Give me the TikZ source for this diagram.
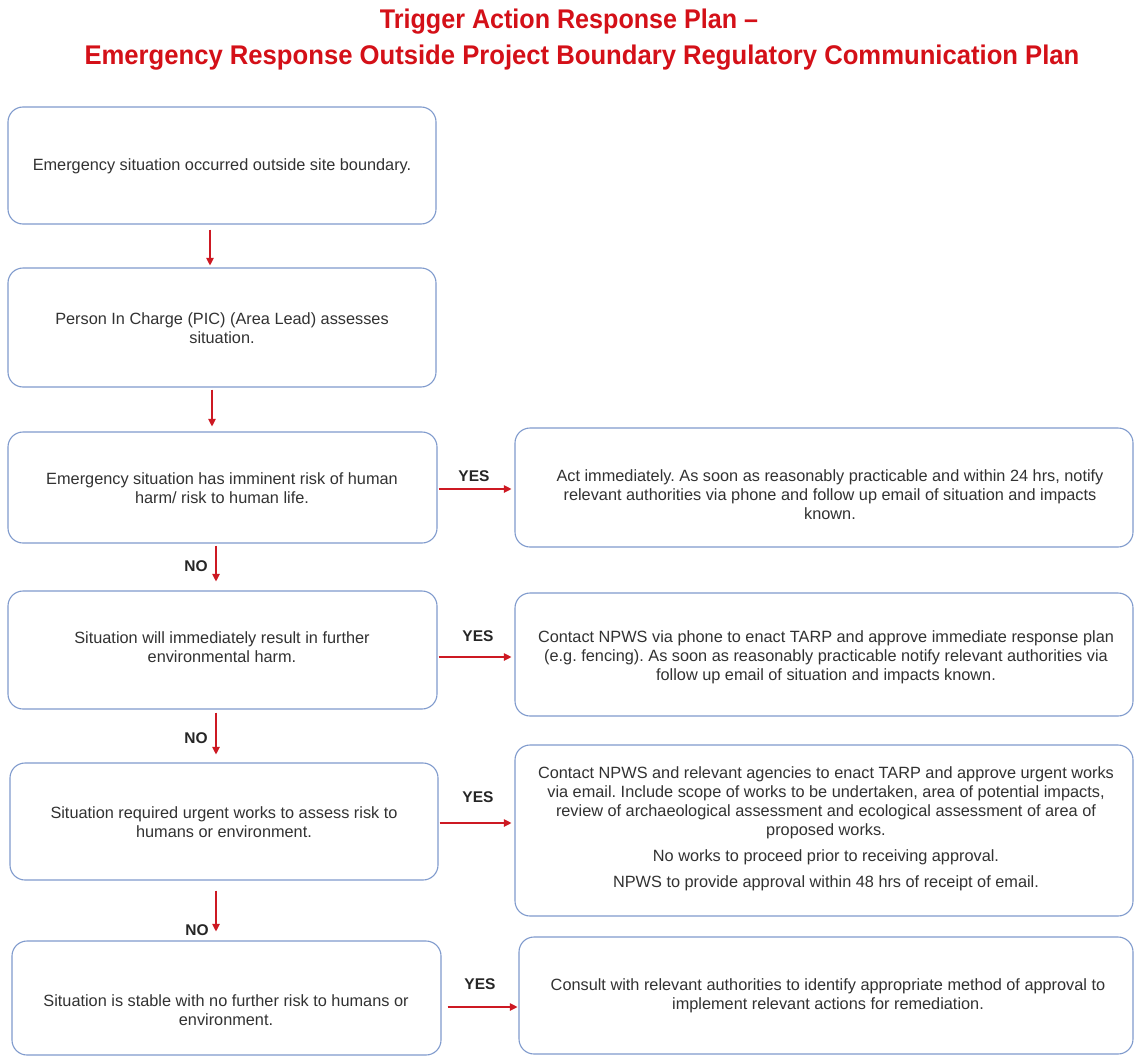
\documentclass[tikz,border=0pt]{standalone}
\usepackage{fontspec}
\setmainfont{Liberation Sans}
\usetikzlibrary{arrows.meta}
\definecolor{boxblue}{RGB}{128,155,205}
\definecolor{arrred}{RGB}{205,25,35}
\definecolor{titlered}{RGB}{212,16,24}
\definecolor{txtgrey}{RGB}{50,50,50}
\frenchspacing
\begin{document}
\begin{tikzpicture}[x=1pt,y=-1pt,
  box/.style={draw=boxblue, line width=1.1pt, rounded corners=15pt, inner sep=0pt},
  txt/.style={text=txtgrey, align=center, font=\fontsize{16.3}{19}\selectfont, inner sep=0pt},
  lbl/.style={font=\bfseries\fontsize{15.5}{18}\selectfont, text=black!85, inner sep=0pt},
  arr/.style={draw=arrred, line width=1.1pt, -{Triangle[length=7.5pt,width=7.5pt]}},
  ttl/.style={text=titlered, font=\bfseries\fontsize{27}{30}\selectfont, inner sep=0pt}]
\useasboundingbox[fill=white] (0,0) rectangle (1135,1057);

% title
\node[ttl] (title1) at (569,22) {\scalebox{0.93}[1]{Trigger Action Response Plan –}};
\node[ttl] (title2) at (582,58) {\scalebox{0.95}[1]{Emergency Response Outside Project Boundary Regulatory Communication Plan}};

% left boxes
\node[box, minimum width=428pt, minimum height=117pt] (b1) at (222,165.5) {};
\node[box, minimum width=428pt, minimum height=119pt] (b2) at (222,327.5) {};
\node[box, minimum width=429pt, minimum height=111pt] (b3) at (222.5,487.5) {};
\node[box, minimum width=429pt, minimum height=118pt] (b4) at (222.5,650) {};
\node[box, minimum width=428pt, minimum height=117pt] (b5) at (224,821.5) {};
\node[box, minimum width=429pt, minimum height=114pt] (b6) at (226.5,998) {};

% right boxes
\node[box, minimum width=618pt, minimum height=119pt] (r1) at (824,487.5) {};
\node[box, minimum width=618pt, minimum height=123pt] (r2) at (824,654.5) {};
\node[box, minimum width=618pt, minimum height=171pt] (r3) at (824,830.5) {};
\node[box, minimum width=614pt, minimum height=117pt] (r4) at (826,995.5) {};

% texts
\node[txt] (t1) at (222,166) {Emergency situation occurred outside site boundary.};
\node[txt] (t2) at (222,328) {Person In Charge (PIC) (Area Lead) assesses\\situation.};
\node[txt] (t3) at (222,488) {Emergency situation has imminent risk of human\\harm/ risk to human life.};
\node[txt] (t4) at (222,647) {Situation will immediately result in further\\environmental harm.};
\node[txt] (t5) at (224,822) {Situation required urgent works to assess risk to\\humans or environment.};
\node[txt] (t6) at (226,1010) {Situation is stable with no further risk to humans or\\environment.};

\node[txt] (s1) at (830,495) {Act immediately. As soon as reasonably practicable and within 24 hrs, notify\\relevant authorities via phone and follow up email of situation and impacts\\known.};
\node[txt] (s2) at (826,657) {Contact NPWS via phone to enact TARP and approve immediate response plan\\(e.g. fencing). As soon as reasonably practicable notify relevant authorities via\\follow up email of situation and impacts known.};
\node[txt] (s3) at (826,829) {Contact NPWS and relevant agencies to enact TARP and approve urgent works\\via email. Include scope of works to be undertaken, area of potential impacts,\\review of archaeological assessment and ecological assessment of area of\\proposed works.\\[7pt]No works to proceed prior to receiving approval.\\[7pt]NPWS to provide approval within 48 hrs of receipt of email.};
\node[txt] (s4) at (828,996) {Consult with relevant authorities to identify appropriate method of approval to\\implement relevant actions for remediation.};

% vertical arrows
\coordinate (v1) at ([xshift=-12pt,yshift=-5pt]b1.south);
\coordinate (v2) at ([xshift=-10pt,yshift=-2pt]b2.south);
\coordinate (v3) at ([xshift=-6.5pt,yshift=-2pt]b3.south);
\coordinate (v4) at ([xshift=-6.5pt,yshift=-3pt]b4.south);
\coordinate (v5) at ([xshift=-8pt,yshift=-10pt]b5.south);
\draw[arr, shorten >=2pt] (v1) -- (v1 |- b2.north);
\draw[arr, shorten >=5pt] (v2) -- (v2 |- b3.north);
\draw[arr, shorten >=9pt] (v3) -- (v3 |- b4.north);
\draw[arr, shorten >=8pt] (v4) -- (v4 |- b5.north);
\draw[arr, shorten >=9pt] (v5) -- (v5 |- b6.north);

% horizontal arrows
\coordinate (y3) at ([xshift=1pt,yshift=-1.5pt]b3.east);
\coordinate (y4) at ([xshift=1pt,yshift=-7pt]b4.east);
\coordinate (y5) at ([xshift=1pt,yshift=-1.5pt]b5.east);
\coordinate (y6) at ([xshift=6pt,yshift=-9pt]b6.east);
\draw[arr, shorten >=3pt] (y3) -- (y3 -| r1.west);
\draw[arr, shorten >=3pt] (y4) -- (y4 -| r2.west);
\draw[arr, shorten >=3pt] (y5) -- (y5 -| r3.west);
\draw[arr, shorten >=1pt] (y6) -- (y6 -| r4.west);

% labels
\node[lbl] (yes1) at (474,476) {YES};
\node[lbl] (yes2) at (478,636) {YES};
\node[lbl] (yes3) at (478,797) {YES};
\node[lbl] (yes4) at (480,984) {YES};
\node[lbl] (no1) at (196,566) {NO};
\node[lbl] (no2) at (196,738) {NO};
\node[lbl] (no3) at (197,930) {NO};
\end{tikzpicture}
\end{document}
